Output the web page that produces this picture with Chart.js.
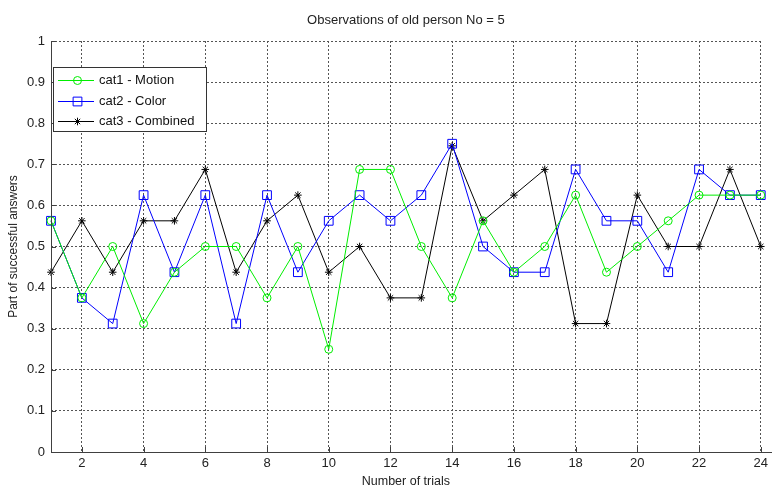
<!DOCTYPE html>
<html>
<head>
<meta charset="utf-8">
<script src="https://cdn.jsdelivr.net/npm/chart.js@4/dist/chart.umd.min.js"></script>
<style>
  html, body { margin: 0; padding: 0; background: #fff; }
  #wrap { width: 772px; height: 490px; }
</style>
</head>
<body>
<div id="wrap"><canvas id="c" width="772" height="490"></canvas></div>
<script>
// data (values are multiples of 1/16)
const trials = [1,2,3,4,5,6,7,8,9,10,11,12,13,14,15,16,17,18,19,20,21,22,23,24];
const motion   = [0.5625,0.375,0.5,0.3125,0.4375,0.5,0.5,0.375,0.5,0.25,0.6875,0.6875,0.5,0.375,0.5625,0.4375,0.5,0.625,0.4375,0.5,0.5625,0.625,0.625,0.625];
const color    = [0.5625,0.375,0.3125,0.625,0.4375,0.625,0.3125,0.625,0.4375,0.5625,0.625,0.5625,0.625,0.75,0.5,0.4375,0.4375,0.6875,0.5625,0.5625,0.4375,0.6875,0.625,0.625];
const combined = [0.4375,0.5625,0.4375,0.5625,0.5625,0.6875,0.4375,0.5625,0.625,0.4375,0.5,0.375,0.375,0.745,0.5625,0.625,0.6875,0.3125,0.3125,0.625,0.5,0.5,0.6875,0.5];
const xTicks = [2,4,6,8,10,12,14,16,18,20,22,24];
const yTicks = [0,0.1,0.2,0.3,0.4,0.5,0.6,0.7,0.8,0.9,1];

const FONT = '"Liberation Sans", Arial, sans-serif';
const pts = arr => arr.map((v, i) => ({ x: trials[i], y: v }));

const series = [
  { label: 'cat1 - Motion',   data: motion,   col: '#00ee00', style: 'circle', r: 4 },
  { label: 'cat2 - Color',    data: color,    col: '#0000ff', style: 'rect',   r: 6.2 },
  { label: 'cat3 - Combined', data: combined, col: '#000000', style: 'star',   r: 3.8 }
];

// MATLAB-ish decorations: titles, solid axes, inward ticks, legend box
const decor = {
  id: 'decor',
  afterDraw(chart) {
    const ctx = chart.ctx, a = chart.chartArea;
    const xs = chart.scales.x, ys = chart.scales.y;
    ctx.save();
    ctx.strokeStyle = '#404040';
    ctx.lineWidth = 1;
    ctx.setLineDash([]);
    ctx.beginPath();
    xTicks.forEach(v => { const px = Math.round(xs.getPixelForValue(v)) + 0.5; ctx.moveTo(px, a.bottom); ctx.lineTo(px, a.bottom - 5); });
    yTicks.forEach(v => { const py = Math.round(ys.getPixelForValue(v)) + 0.5; ctx.moveTo(a.left, py); ctx.lineTo(a.left + 5, py); });
    // axes lines; the x axis runs on past the last tick
    const lx = Math.round(a.left) + 0.5, by = Math.round(a.bottom) + 0.5;
    ctx.moveTo(lx, a.top); ctx.lineTo(lx, by);
    ctx.moveTo(lx, by); ctx.lineTo(772, by);
    ctx.stroke();

    // text
    ctx.fillStyle = '#222';
    ctx.font = '13px ' + FONT;
    ctx.textAlign = 'center';
    ctx.textBaseline = 'middle';
    ctx.fillText('Observations of old person No = 5', (a.left + a.right) / 2, 20);
    ctx.font = '12.5px ' + FONT;
    ctx.fillText('Number of trials', (a.left + a.right) / 2, 482);
    ctx.save();
    ctx.translate(14, (a.top + a.bottom) / 2);
    ctx.rotate(-Math.PI / 2);
    ctx.font = '12px ' + FONT;
    ctx.fillText('Part of successful answers', 0, 0);
    ctx.restore();

    // legend
    const bx = 53, bt = 67, bw = 153, bh = 64;
    ctx.fillStyle = '#fff';
    ctx.fillRect(bx, bt, bw, bh);
    ctx.strokeStyle = '#333';
    ctx.strokeRect(bx + 0.5, bt + 0.5, bw, bh);
    const rows = [80, 101, 121];
    ctx.font = '13px ' + FONT;
    ctx.textAlign = 'left';
    series.forEach((s, i) => {
      const y = rows[i] + 0.5;
      ctx.strokeStyle = s.col;
      ctx.lineWidth = 1;
      ctx.beginPath(); ctx.moveTo(58, y); ctx.lineTo(94, y); ctx.stroke();
      ctx.fillStyle = 'rgba(0,0,0,0)';
      Chart.helpers.drawPoint(ctx, { pointStyle: s.style, radius: s.r, borderWidth: 1 }, 77.5, y);
      ctx.fillStyle = '#111';
      ctx.fillText(s.label, 99, y);
    });
    ctx.restore();
  }
};

new Chart(document.getElementById('c'), {
  type: 'line',
  data: {
    datasets: series.map(s => ({
      label: s.label,
      data: pts(s.data),
      borderColor: s.col,
      backgroundColor: 'transparent',
      borderWidth: 1,
      pointStyle: s.style,
      pointRadius: s.r,
      pointBorderColor: s.col,
      pointBorderWidth: 1,
      pointBackgroundColor: 'transparent',
      tension: 0,
      clip: false
    }))
  },
  options: {
    responsive: false,
    animation: false,
    events: [],
    layout: { padding: { top: 41, right: 7, left: 0, bottom: 0 } },
    plugins: { legend: { display: false }, title: { display: false }, tooltip: { enabled: false } },
    scales: {
      x: {
        type: 'linear', min: 1, max: 24,
        afterBuildTicks: s => { s.ticks = xTicks.map(v => ({ value: v })); },
        afterFit: s => { s.height = 38; },
        grid: { color: '#555', lineWidth: 1, drawTicks: false },
        border: { display: false, dash: [2, 2] },
        ticks: { color: '#222', font: { family: FONT, size: 13 }, padding: 4, maxRotation: 0, autoSkip: false,
                 callback: v => String(v) }
      },
      y: {
        type: 'linear', min: 0, max: 1,
        afterBuildTicks: s => { s.ticks = yTicks.map(v => ({ value: v })); },
        afterFit: s => { s.width = 51; },
        grid: { color: '#555', lineWidth: 1, drawTicks: false },
        border: { display: false, dash: [2, 2] },
        ticks: { color: '#222', font: { family: FONT, size: 13 }, padding: 6, autoSkip: false,
                 callback: v => String(Math.round(v * 10) / 10) }
      }
    }
  },
  plugins: [decor]
});
</script>
</body>
</html>
